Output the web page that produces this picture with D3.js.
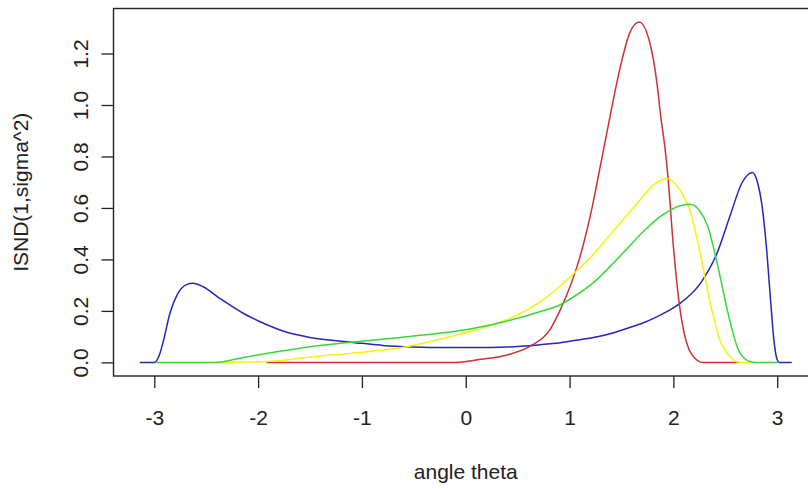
<!DOCTYPE html>
<html>
<head>
  <meta charset="utf-8">
  <title>ISND densities</title>
  <style>
    body { margin: 0; background: #fff; }
    #chart { font-family: "Liberation Sans", Arial, sans-serif; }
    .curve { fill: none; stroke-width: 1.5; }
  </style>
</head>
<body>
  <div id="chart"></div>

  <script src="https://d3js.org/d3.v7.min.js"></script>
  <script>
    // values (theta, density)
    const blueTheta = [-3.14, -3.0, -2.95, -2.91, -2.85, -2.78, -2.69, -2.63, -2.53, -2.37, -2.14, -1.98, -1.76, -1.5, -1.2, -1.0, -0.8, -0.5, -0.2, 0.1, 0.4, 0.7, 0.91, 1.1, 1.23, 1.4, 1.55, 1.7, 1.81, 1.95, 2.06, 2.26, 2.42, 2.55, 2.66, 2.76, 2.81, 2.85, 2.9, 2.94, 2.97, 3.0, 3.02, 3.14];
    const blueDens  = [0, 0, 0.03, 0.087, 0.19, 0.262, 0.302, 0.307, 0.294, 0.249, 0.19, 0.158, 0.122, 0.097, 0.082, 0.074, 0.066, 0.06, 0.058, 0.058, 0.06, 0.068, 0.076, 0.088, 0.097, 0.112, 0.132, 0.152, 0.171, 0.2, 0.228, 0.307, 0.424, 0.575, 0.697, 0.738, 0.70, 0.62, 0.43, 0.22, 0.08, 0.01, 0, 0];

    const redTheta = [-1.92, -0.1, 0.14, 0.39, 0.62, 0.81, 0.91, 1.0, 1.1, 1.2, 1.3, 1.39, 1.49, 1.58, 1.67, 1.78, 1.84, 1.88, 1.92, 1.95, 2.0, 2.05, 2.1, 2.15, 2.21, 2.28, 2.64];
    const redDens  = [0, 0, 0.012, 0.028, 0.063, 0.126, 0.204, 0.29, 0.41, 0.57, 0.77, 0.956, 1.15, 1.28, 1.322, 1.23, 1.09, 0.95, 0.83, 0.71, 0.45, 0.25, 0.12, 0.05, 0.015, 0, 0];

    const yellowTheta = [-2.42, -1.93, -1.47, -0.95, -0.57, -0.28, 0.07, 0.39, 0.72, 1.0, 1.23, 1.42, 1.55, 1.68, 1.81, 1.94, 2.06, 2.16, 2.26, 2.35, 2.45, 2.55, 2.64, 2.76];
    const yellowDens  = [0, 0.003, 0.022, 0.041, 0.061, 0.087, 0.123, 0.165, 0.236, 0.33, 0.42, 0.51, 0.57, 0.632, 0.69, 0.714, 0.671, 0.59, 0.42, 0.24, 0.085, 0.02, 0, 0];

    const greenTheta = [-2.98, -2.42, -2.14, -1.82, -1.5, -1.11, -0.57, 0.07, 0.39, 0.72, 0.91, 1.04, 1.23, 1.42, 1.55, 1.74, 1.87, 2.0, 2.16, 2.25, 2.33, 2.43, 2.53, 2.62, 2.71, 2.78, 3.01];
    const greenDens  = [0, 0, 0.019, 0.041, 0.061, 0.078, 0.1, 0.132, 0.16, 0.198, 0.224, 0.255, 0.31, 0.385, 0.44, 0.52, 0.565, 0.598, 0.614, 0.59, 0.53, 0.37, 0.185, 0.055, 0.008, 0, 0];

    const xTicks = [-3, -2, -1, 0, 1, 2, 3];
    const yTicks = [0, 0.2, 0.4, 0.6, 0.8, 1.0, 1.2];
    const xTitle = "angle theta";
    const yTitle = "ISND(1,sigma^2)";

    const series = [
      { theta: blueTheta, dens: blueDens, color: "#2626b8" },
      { theta: redTheta, dens: redDens, color: "#c83434" },
      { theta: yellowTheta, dens: yellowDens, color: "#f4f40a" },
      { theta: greenTheta, dens: greenDens, color: "#38d838" }
    ];

    const width = 808, height = 489;
    const box = { left: 113.5, right: 818, top: 8.5, bottom: 376 };
    const fontSize = "21px";

    // R style 4% padding on the data range
    const xr = [-Math.PI, Math.PI];
    const yr = [0, d3.max(redDens)];
    const xpad = (xr[1] - xr[0]) * 0.04, ypad = (yr[1] - yr[0]) * 0.04;

    const x = d3.scaleLinear().domain([xr[0] - xpad, xr[1] + xpad]).range([box.left, box.right]);
    const y = d3.scaleLinear().domain([yr[0] - ypad, yr[1] + ypad]).range([box.bottom, box.top]);

    const svg = d3.select("#chart").append("svg")
      .attr("width", width)
      .attr("height", height);

    const line = d3.line()
      .x(d => x(d[0]))
      .y(d => y(d[1]))
      .curve(d3.curveMonotoneX);

    series.forEach(s => {
      svg.append("path")
        .attr("class", "curve")
        .attr("stroke", s.color)
        .attr("d", line(d3.zip(s.theta, s.dens)));
    });

    // plot box
    svg.append("rect")
      .attr("x", box.left).attr("y", box.top)
      .attr("width", box.right - box.left).attr("height", box.bottom - box.top)
      .attr("fill", "none").attr("stroke", "#222").attr("stroke-width", 1.4);

    // x axis (plain hyphen for negatives, like R)
    const gx = svg.append("g")
      .attr("transform", "translate(0," + box.bottom + ")")
      .call(d3.axisBottom(x).tickValues(xTicks).tickSize(12).tickFormat(d => String(d)));
    gx.select(".domain").remove();
    gx.selectAll("line").attr("stroke", "#222").attr("stroke-width", 1.3);
    gx.selectAll("text")
      .attr("y", 49).attr("dy", 0)
      .attr("fill", "#222")
      .style("font-size", fontSize)
      .style("font-family", "'Liberation Sans', Arial, sans-serif");

    // y axis, labels turned like R's las=0
    const gy = svg.append("g")
      .attr("transform", "translate(" + box.left + ",0)")
      .call(d3.axisLeft(y).tickValues(yTicks).tickSize(12).tickFormat(d3.format(".1f")));
    gy.select(".domain").remove();
    gy.selectAll("line").attr("stroke", "#222").attr("stroke-width", 1.3);
    gy.selectAll("text")
      .attr("x", 0).attr("y", -25.5).attr("dy", 0)
      .attr("transform", "rotate(-90)")
      .attr("text-anchor", "middle")
      .attr("fill", "#222")
      .style("font-size", fontSize)
      .style("font-family", "'Liberation Sans', Arial, sans-serif");

    // axis titles
    svg.append("text")
      .attr("x", (box.left + box.right) / 2)
      .attr("y", 479)
      .attr("text-anchor", "middle")
      .attr("fill", "#222")
      .style("font-size", fontSize)
      .text(xTitle);

    svg.append("text")
      .attr("transform", "translate(28," + (box.top + box.bottom) / 2 + ") rotate(-90)")
      .attr("text-anchor", "middle")
      .attr("fill", "#222")
      .style("font-size", fontSize)
      .text(yTitle);
  </script>
</body>
</html>
